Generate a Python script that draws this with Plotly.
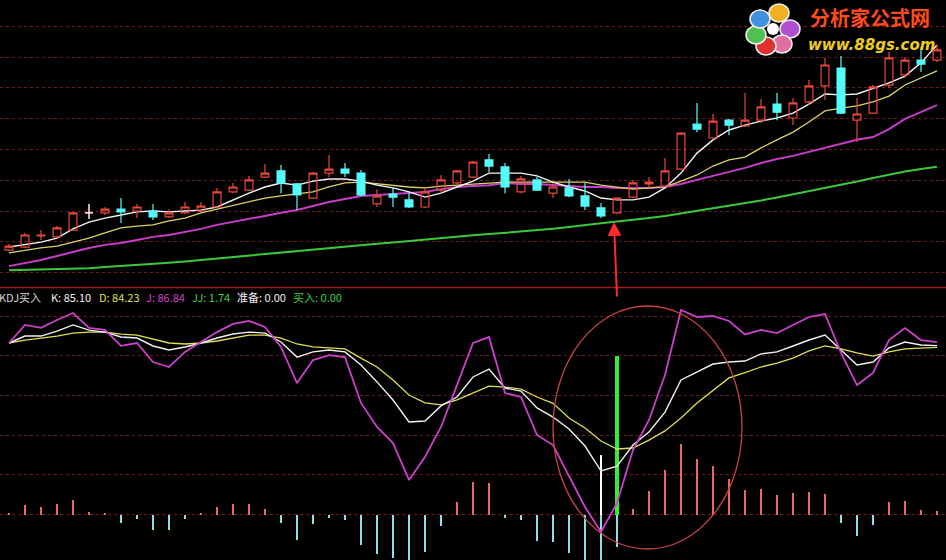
import plotly.graph_objects as go

# ---------------- data ----------------
bars = list(range(59))

opens = [10.73, 10.83, 11.19, 11.16, 11.38, 11.94, 11.94, 12.06, 12.00, 12.00,
         11.81, 11.94, 12.00, 12.13, 12.62, 12.68, 13.10, 13.30, 12.88, 12.42,
         13.23, 13.36, 13.23, 12.23, 12.55, 12.36, 12.13, 12.68, 12.91, 13.10,
         13.66, 13.43, 12.62, 13.01, 12.58, 12.75, 12.49, 12.10, 11.94, 12.45,
         12.88, 12.81, 13.36, 14.82, 14.37, 14.95, 14.76, 14.95, 15.47, 15.02,
         15.54, 16.06, 16.64, 14.95, 15.18, 16.09, 16.42, 16.90, 16.90]
highs = [10.93, 11.29, 11.38, 11.51, 11.97, 12.23, 12.13, 12.42, 12.23, 12.23,
         12.06, 12.29, 12.29, 12.75, 12.91, 13.14, 13.53, 13.49, 12.91, 13.27,
         13.82, 13.56, 13.33, 12.71, 12.78, 12.58, 12.75, 13.17, 13.33, 13.62,
         13.85, 13.56, 13.14, 13.10, 12.91, 13.04, 12.91, 12.26, 12.45, 13.01,
         13.10, 13.72, 14.56, 15.51, 15.15, 14.99, 15.83, 15.64, 15.83, 15.67,
         16.25, 16.97, 17.03, 15.67, 16.09, 17.16, 17.00, 17.32, 17.39]
lows = [10.70, 10.80, 11.06, 11.12, 11.35, 11.74, 11.87, 11.61, 11.77, 11.71,
        11.77, 11.90, 11.97, 12.10, 12.58, 12.65, 13.07, 12.58, 12.03, 12.39,
        13.10, 13.10, 12.49, 12.13, 12.13, 12.10, 12.10, 12.58, 12.88, 13.07,
        13.27, 12.58, 12.58, 12.65, 12.42, 12.45, 12.03, 11.77, 11.90, 12.42,
        12.75, 12.78, 13.33, 14.56, 14.31, 14.47, 14.73, 14.86, 14.95, 14.79,
        15.44, 15.60, 15.15, 14.24, 15.15, 15.99, 16.32, 16.51, 16.84]
closes = [10.86, 11.22, 11.22, 11.45, 11.94, 11.94, 12.06, 11.97, 12.13, 11.81,
          11.94, 12.13, 12.16, 12.62, 12.78, 13.01, 13.23, 12.91, 12.52, 13.23,
          13.36, 13.23, 12.52, 12.49, 12.45, 12.13, 12.62, 13.01, 13.30, 13.59,
          13.46, 12.78, 13.04, 12.68, 12.78, 12.49, 12.16, 11.84, 12.42, 12.91,
          12.94, 13.30, 14.53, 14.66, 14.92, 14.79, 14.95, 15.38, 15.21, 15.51,
          16.06, 16.74, 15.18, 15.15, 16.03, 16.97, 16.90, 16.77, 17.23]

ma5 = [10.83, 10.90, 10.99, 11.12, 11.42, 11.64, 11.77, 11.87, 11.97, 12.00,
       11.97, 12.00, 12.03, 12.13, 12.36, 12.58, 12.78, 12.91, 12.84, 12.97,
       13.04, 13.04, 12.97, 12.84, 12.75, 12.62, 12.45, 12.58, 12.78, 12.97,
       13.23, 13.23, 13.23, 13.14, 12.94, 12.78, 12.65, 12.42, 12.36, 12.36,
       12.45, 12.75, 13.23, 13.88, 14.31, 14.63, 14.79, 14.92, 15.02, 15.18,
       15.47, 15.80, 15.77, 15.80, 15.99, 16.16, 16.38, 16.81, 17.39]
ma10 = [10.64, 10.73, 10.80, 10.86, 10.99, 11.12, 11.29, 11.45, 11.51, 11.55,
        11.68, 11.77, 11.94, 12.06, 12.19, 12.29, 12.42, 12.49, 12.55, 12.62,
        12.78, 12.91, 12.94, 12.88, 12.84, 12.78, 12.75, 12.81, 12.84, 12.88,
        12.91, 12.94, 12.94, 12.94, 12.94, 12.94, 12.94, 12.84, 12.78, 12.71,
        12.75, 12.78, 12.97, 13.17, 13.46, 13.66, 13.75, 14.05, 14.31, 14.56,
        14.89, 15.25, 15.34, 15.41, 15.54, 15.73, 16.09, 16.32, 16.55]
ma20 = [10.21, 10.31, 10.41, 10.54, 10.67, 10.80, 10.90, 10.96, 11.06, 11.16,
        11.22, 11.32, 11.42, 11.55, 11.64, 11.74, 11.84, 11.94, 12.03, 12.16,
        12.29, 12.39, 12.49, 12.52, 12.55, 12.58, 12.62, 12.71, 12.78, 12.81,
        12.84, 12.91, 12.88, 12.88, 12.84, 12.81, 12.78, 12.78, 12.75, 12.75,
        12.75, 12.78, 12.88, 13.01, 13.14, 13.27, 13.40, 13.56, 13.69, 13.79,
        13.92, 14.05, 14.18, 14.31, 14.40, 14.66, 14.99, 15.21, 15.44]
ma60 = [10.08, 10.09, 10.10, 10.11, 10.12, 10.14, 10.18, 10.21, 10.25, 10.28,
        10.32, 10.36, 10.41, 10.46, 10.51, 10.56, 10.61, 10.66, 10.71, 10.75,
        10.80, 10.85, 10.89, 10.94, 10.98, 11.03, 11.08, 11.12, 11.17, 11.21,
        11.25, 11.29, 11.33, 11.37, 11.42, 11.48, 11.55, 11.60, 11.66, 11.71,
        11.77, 11.84, 11.92, 12.00, 12.08, 12.16, 12.24, 12.34, 12.44, 12.54,
        12.64, 12.75, 12.85, 12.96, 13.07, 13.18, 13.28, 13.36, 13.44]

k_vals = [86.4, 89.9, 89.9, 92.4, 95.5, 92.9, 91.9, 89.4, 88.9, 84.9,
          82.9, 84.4, 86.4, 88.9, 90.9, 91.9, 91.4, 86.9, 79.3, 81.9,
          82.9, 81.9, 75.3, 66.8, 57.7, 46.6, 47.1, 54.7, 59.2, 69.3,
          73.3, 63.7, 62.2, 53.7, 49.1, 43.1, 34.5, 21.9, 24.4, 35.0,
          41.6, 51.6, 67.8, 71.8, 75.8, 76.8, 77.3, 80.9, 81.9, 84.9,
          87.9, 90.4, 82.9, 75.3, 76.8, 83.9, 86.9, 85.4, 85.10]
d_vals = [86.4, 87.9, 88.9, 89.9, 91.4, 91.9, 91.9, 90.9, 90.4, 88.4,
          86.4, 85.9, 86.4, 87.4, 88.9, 90.4, 90.4, 88.9, 85.9, 84.4,
          83.9, 83.4, 78.8, 74.3, 67.8, 60.2, 56.2, 55.2, 57.7, 61.2,
          64.7, 64.2, 63.2, 59.2, 56.0, 48.6, 43.6, 37.0, 33.0, 33.5,
          37.5, 42.1, 48.6, 56.2, 62.7, 68.8, 71.5, 74.3, 76.3, 78.8,
          82.4, 84.9, 83.4, 81.4, 79.8, 81.9, 83.4, 83.9, 84.23]
j_vals = [86.4, 95.5, 94.0, 98.0, 101.5, 94.0, 93.0, 85.0, 86.4, 76.8,
          74.3, 81.9, 86.9, 91.9, 96.0, 97.5, 94.5, 84.4, 66.2, 77.8,
          80.3, 79.3, 56.2, 44.1, 36.0, 17.4, 29.0, 44.1, 65.2, 86.4,
          89.4, 61.2, 59.2, 40.1, 35.0, 19.4, 3.8, -8.8, 5.8, 32.5,
          47.6, 70.3, 103.0, 99.5, 100.0, 97.5, 90.7, 93.0, 91.4, 95.5,
          99.5, 101.0, 81.4, 65.2, 71.3, 87.9, 93.9, 87.9, 86.84]
jj_vals = [0.3, 4.8, 3.6, 5.3, 7.3, 1.4, 0.8, -4.1, -2.3, -7.8,
           -7.8, -2.3, 0.5, 3.6, 5.3, 5.3, 2.7, -4.5, -12.8, -4.8,
           -2.0, -2.9, -15.4, -20.0, -22.0, -26.0, -18.7, -5.9, 6.5, 16.5,
           16.0, -2.0, -2.9, -13.2, -13.7, -19.5, -24.0, -26.0, -16.3, 2.6,
           11.8, 22.4, 35.5, 27.8, 24.4, 17.7, 12.3, 12.8, 9.8, 10.7,
           11.5, 10.3, -4.1, -10.8, -5.3, 6.4, 6.7, 2.2, 1.74]
ready_vals = [0] * 37 + [30] + [0] * 21   # 准备
buy_vals = [0] * 38 + [80] + [0] * 20     # 买入

price_grid = [10, 11, 12, 13, 14, 15, 16, 17, 18]
kdj_grid = [0, 20, 40, 60, 80, 100]

# ---------------- style ----------------
W, H = 946, 560
SPLIT = 288
RED = "#e8483c"
CYAN = "#54fcfc"
GRID = "#7a1818"


def px(x):
    return x / W


def py(y):
    return 1 - y / H


fig = go.Figure()

# moving averages (drawn under the candles)
for vals, color, width in [(ma60, "#3cc83c", 2.0), (ma20, "#c83cc8", 2.0),
                           (ma10, "#dcd264", 1.3), (ma5, "#f4f4f4", 1.4)]:
    fig.add_trace(go.Scatter(x=bars, y=vals, mode="lines",
                             line=dict(color=color, width=width),
                             xaxis="x", yaxis="y", hoverinfo="skip"))

# candles on an overlaying axis so they sit above the lines
fig.add_trace(go.Candlestick(
    x=bars, open=opens, high=highs, low=lows, close=closes,
    increasing=dict(line=dict(color=RED, width=1.2), fillcolor="rgba(0,0,0,0)"),
    decreasing=dict(line=dict(color=CYAN, width=1.2), fillcolor=CYAN),
    whiskerwidth=0, xaxis="x", yaxis="y3"))
doji = [i for i in bars if opens[i] == closes[i]]
fig.add_trace(go.Candlestick(
    x=[bars[i] for i in doji], open=[opens[i] for i in doji],
    high=[highs[i] for i in doji], low=[lows[i] for i in doji],
    close=[closes[i] for i in doji],
    increasing=dict(line=dict(color="#ffffff", width=1.2), fillcolor="#ffffff"),
    decreasing=dict(line=dict(color="#ffffff", width=1.2), fillcolor="#ffffff"),
    whiskerwidth=0, xaxis="x", yaxis="y3"))

# lower panel bars
fig.add_trace(go.Bar(x=bars, y=jj_vals, width=0.13,
                     marker=dict(color=["#e86a5e" if v >= 0 else "#8ee0e8" for v in jj_vals],
                                 line=dict(width=0)),
                     xaxis="x2", yaxis="y2"))
fig.add_trace(go.Bar(x=bars, y=ready_vals, width=0.14,
                     marker=dict(color="#ffffff", line=dict(width=0)),
                     xaxis="x2", yaxis="y2"))
fig.add_trace(go.Bar(x=bars, y=buy_vals, width=0.2,
                     marker=dict(color="#30f030", line=dict(width=0)),
                     xaxis="x2", yaxis="y2"))

# KDJ lines
for vals, color, width in [(d_vals, "#dede50", 1.3), (k_vals, "#f0f0f0", 1.4),
                           (j_vals, "#cc40cc", 1.8)]:
    fig.add_trace(go.Scatter(x=bars, y=vals, mode="lines",
                             line=dict(color=color, width=width),
                             xaxis="x2", yaxis="y2", hoverinfo="skip"))

xr = [-9 / 16, (W - 9) / 16]
split_p = 1 - SPLIT / H
price_range = [10 - (SPLIT - 272.6) / 30.8, 10 + 272.6 / 30.8]
kdj_range = [-(H - 514.5) / 1.985, (514.5 - SPLIT) / 1.985]

axis_common = dict(showline=False, zeroline=False, showticklabels=False, ticks="")
fig.update_layout(
    width=W, height=H, margin=dict(l=0, r=0, t=0, b=0),
    paper_bgcolor="#000000", plot_bgcolor="#000000",
    showlegend=False, barmode="overlay", bargap=0,
    xaxis=dict(domain=[0, 1], range=xr, anchor="y", showgrid=False,
               rangeslider=dict(visible=False), **axis_common),
    yaxis=dict(domain=[split_p, 1], range=price_range, anchor="x",
               tickvals=price_grid, showgrid=True, gridcolor=GRID,
               griddash="dot", gridwidth=1, **axis_common),
    yaxis3=dict(overlaying="y", range=price_range, anchor="x",
                showgrid=False, **axis_common),
    xaxis2=dict(domain=[0, 1], range=xr, anchor="y2", showgrid=False,
                **axis_common),
    yaxis2=dict(domain=[0, split_p], range=kdj_range, anchor="x2",
                tickvals=kdj_grid, showgrid=True, gridcolor=GRID,
                griddash="dot", gridwidth=1, **axis_common),
)

shapes = [
    dict(type="line", xref="paper", yref="paper", x0=0, x1=1,
         y0=py(287.5), y1=py(287.5), line=dict(color="#a01c1c", width=1.5)),
    dict(type="circle", xref="paper", yref="paper", x0=px(553), x1=px(742),
         y0=py(549), y1=py(306), line=dict(color="#c84444", width=1.3)),
]
# logo flower petals
for cx, cy, col in [(779, 13, "#f0b020"), (790, 29, "#b050d0"), (782, 44, "#e070a0"),
                    (766, 46, "#e03030"), (756, 35, "#50c050"), (760, 19, "#4090e0")]:
    shapes.append(dict(type="circle", xref="paper", yref="paper",
                       x0=px(cx - 10), x1=px(cx + 10), y0=py(cy + 9), y1=py(cy - 9),
                       fillcolor=col, line=dict(color="#f0f0f0", width=1.5)))
shapes.append(dict(type="circle", xref="paper", yref="paper",
                   x0=px(767), x1=px(779), y0=py(35), y1=py(23),
                   fillcolor="#ffffff", line=dict(width=0)))
fig.update_layout(shapes=shapes)

FONT = "Noto Sans CJK SC, Arial, sans-serif"
title_parts = [("KDJ买入", "#d8d8d8", -3), ("K: 85.10", "#f0f0f0", 49),
               ("D: 84.23", "#e0e040", 97), ("J: 86.84", "#d040d0", 144),
               ("JJ: 1.74", "#40d040", 190), ("准备: 0.00", "#f0f0f0", 235),
               ("买入: 0.00", "#40d040", 291)]
annotations = []
for txt, col, x0 in title_parts:
    annotations.append(dict(text=txt, xref="paper", yref="paper", x=px(x0), y=py(297),
                            xanchor="left", yanchor="middle", showarrow=False,
                            font=dict(family=FONT, size=11, color=col)))
annotations.append(dict(text="<b>分析家公式网</b>", xref="paper", yref="paper",
                        x=px(870), y=py(17), xanchor="center", yanchor="middle",
                        showarrow=False,
                        font=dict(family=FONT, size=20, color="#ff4a1c")))
annotations.append(dict(text="<b><i>www.88gs.com</i></b>", xref="paper", yref="paper",
                        x=px(871), y=py(45), xanchor="center", yanchor="middle",
                        showarrow=False,
                        font=dict(family="DejaVu Sans, sans-serif", size=15, color="#f0cc20")))
annotations.append(dict(text="", x=(614 - 9) / 16, y=10 + (272.6 - 222) / 30.8,
                        xref="x", yref="y", showarrow=True, ax=3, ay=76,
                        arrowhead=2, arrowsize=1.4, arrowwidth=2, arrowcolor="#ff2a2a"))
fig.update_layout(annotations=annotations)

fig.write_html("out.html", config={"displayModeBar": False},
               post_script="document.body.style.margin='0';document.body.style.overflow='hidden';")
